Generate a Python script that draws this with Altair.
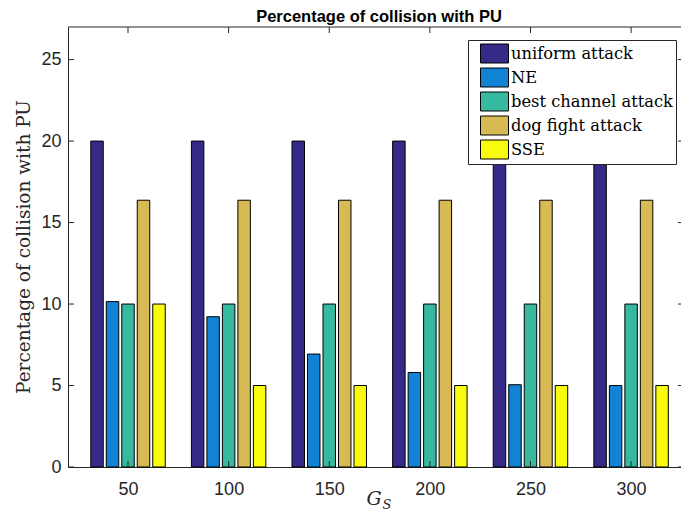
import altair as alt
import pandas as pd

# ---- data ----
gs = [50, 100, 150, 200, 250, 300]
series_names = ["uniform attack", "NE", "best channel attack", "dog fight attack", "SSE"]
uniform_attack = [20, 20, 20, 20, 20, 20]
ne = [10.15, 9.22, 6.93, 5.80, 5.05, 5.00]
best_channel_attack = [10, 10, 10, 10, 10, 10]
dog_fight_attack = [16.37, 16.37, 16.37, 16.37, 16.37, 16.37]
sse = [10, 5, 5, 5, 5, 5]
colors = ["#352A87", "#1283D4", "#36B99F", "#D8BA55", "#F9FB0E"]
y_ticks = [0, 5, 10, 15, 20, 25]

title_text = "Percentage of collision with PU"
y_title = "Percentage of collision with PU"
x_title_main = "G"
x_title_sub = "S"

rows = []
for k, (name, vals) in enumerate(zip(series_names, [uniform_attack, ne, best_channel_attack, dog_fight_attack, sse])):
    for g, v in zip(gs, vals):
        rows.append({"G": g, "series": name, "k": k, "value": v})
df = pd.DataFrame(rows)

W, H = 613, 440
AXC = "#262626"
xscale = alt.Scale(domain=[20.18, 324.8], nice=False, zero=False)
yscale = alt.Scale(domain=[0, 27], nice=False, zero=True)

bars = alt.Chart(df).transform_calculate(
    x0="datum.G + (datum.k - 2) * 7.7 - 3.1",
    x1="datum.G + (datum.k - 2) * 7.7 + 3.1",
    y0="0",
).mark_bar(stroke="black", strokeWidth=1, opacity=1).encode(
    x=alt.X("x0:Q", scale=xscale, axis=alt.Axis(
        values=gs, ticks=False, title=None, grid=False,
        labelFont="Liberation Sans", labelFontSize=18, labelColor=AXC,
        labelPadding=13, domainColor=AXC, domainWidth=1)),
    x2="x1:Q",
    y=alt.Y("value:Q", scale=yscale, axis=alt.Axis(
        values=y_ticks, ticks=False, title=None, grid=False,
        labelFont="Liberation Sans", labelFontSize=18, labelColor=AXC,
        labelPadding=7, domainColor=AXC, domainWidth=1)),
    y2="y0:Q",
    color=alt.Color("series:N", sort=series_names,
                    scale=alt.Scale(domain=series_names, range=colors),
                    legend=alt.Legend(
                        title=None, orient="none", legendX=400, legendY=13,
                        fillColor="white", strokeColor=AXC, padding=3,
                        symbolType="M-1.4,-0.95H1.4V0.95H-1.4Z", symbolSize=400,
                        symbolStrokeColor="black", symbolStrokeWidth=1,
                        symbolOffset=13, symbolOpacity=1,
                        labelFont="DejaVu Serif", labelFontSize=16.3, labelColor="black",
                        labelOffset=6, labelLimit=400, rowPadding=1)),
)

ytick_df = pd.DataFrame({"v": y_ticks})
xtick_df = pd.DataFrame({"g": gs})

ytl = alt.Chart(ytick_df).mark_rule(color=AXC).encode(
    y=alt.Y("v:Q", scale=yscale), x=alt.value(0), x2=alt.value(6))
ytr = alt.Chart(ytick_df).mark_rule(color=AXC).encode(
    y=alt.Y("v:Q", scale=yscale), x=alt.value(W - 3), x2=alt.value(W))
xtb = alt.Chart(xtick_df).mark_rule(color=AXC).encode(
    x=alt.X("g:Q", scale=xscale), y=alt.value(H), y2=alt.value(H - 6))
xtt = alt.Chart(xtick_df).mark_rule(color=AXC).encode(
    x=alt.X("g:Q", scale=xscale), y=alt.value(0), y2=alt.value(6))
top_line = alt.Chart(pd.DataFrame({"a": [0]})).mark_rule(color=AXC).encode(
    x=alt.value(0), x2=alt.value(W), y=alt.value(0))

title = alt.Chart(pd.DataFrame({"t": [title_text]})).mark_text(
    font="Liberation Sans", fontSize=16.5, fontWeight="bold", color="black",
    baseline="alphabetic", align="center").encode(
    text="t:N", x=alt.value(311), y=alt.value(-5))

ytitle = alt.Chart(pd.DataFrame({"t": [y_title]})).mark_text(
    font="DejaVu Serif", fontSize=18.5, color=AXC, angle=270,
    baseline="middle", align="center").encode(
    text="t:N", x=alt.value(-44), y=alt.value(H / 2))

xg = alt.Chart(pd.DataFrame({"t": [x_title_main]})).mark_text(
    font="DejaVu Serif", fontSize=19, fontStyle="italic", color=AXC,
    baseline="alphabetic", align="center").encode(
    text="t:N", x=alt.value(306), y=alt.value(478))
xs = alt.Chart(pd.DataFrame({"t": [x_title_sub]})).mark_text(
    font="DejaVu Serif", fontSize=13, fontStyle="italic", color=AXC,
    baseline="alphabetic", align="center").encode(
    text="t:N", x=alt.value(319), y=alt.value(482))

chart = alt.layer(bars, ytl, ytr, xtb, xtt, top_line, title, ytitle, xg, xs).properties(
    width=W, height=H,
    autosize=alt.AutoSizeParams(type="none"),
    padding={"left": 60, "top": 19, "right": 0, "bottom": 48},
).configure_view(stroke=None)

chart.save("out.html", embed_options={"renderer": "svg", "actions": False})
